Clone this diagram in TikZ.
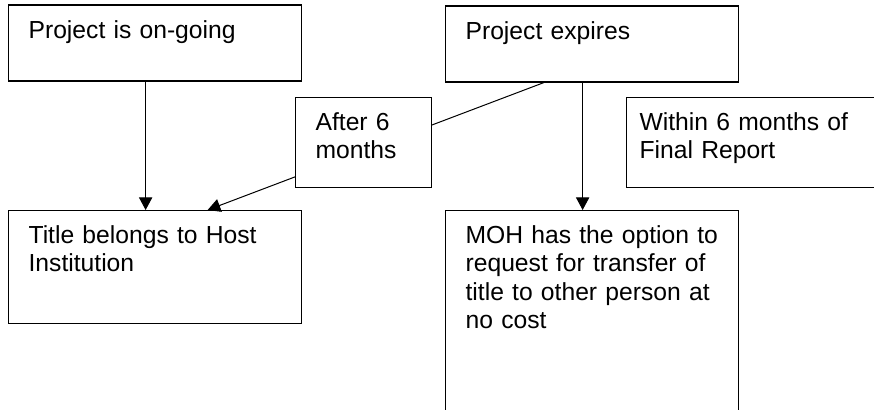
\documentclass[tikz,border=0pt]{standalone}
\usepackage{fontspec}
\setmainfont{Liberation Sans}
\usetikzlibrary{arrows.meta}

\begin{document}
\begin{tikzpicture}[x=0.75pt,y=-0.75pt]
    \clip (0,0) rectangle (874,410);

        \begin{scope}[every node/.style={draw,line width=0.9pt,fill=white,anchor=north west,align=left,
                inner ysep=0pt,inner xsep=15pt,text height=24.75pt,font=\fontsize{18.5}{21.2}\selectfont}]
            \node[text width=189.75pt,text depth=32.25pt] (ongoing) at (8,4.5) {Project is on-going};
            \node[text width=189.75pt,text depth=32.25pt] (expires) at (445,5.5) {Project expires};
            \node[text width=175.5pt,text depth=42.75pt,inner xsep=9.75pt] (within) at (626,97) {Within 6 months of\\Final Report};
            \node[text width=189.75pt,text depth=60pt] (title) at (8,210) {Title belongs to Host\\Institution};
            \node[text width=189.75pt,text depth=170pt] (moh) at (445,210) {MOH has the option to\\request for transfer of\\title to other person at\\no cost};
        \end{scope}

        \begin{scope}[every edge/.style={draw,line width=0.75pt}]
            \path [-{Triangle[length=9.5pt,width=10pt]}] ([xshift=-7.1pt]ongoing.south) edge ([xshift=-7.1pt]title.north);
            \path [-{Triangle[length=9.5pt,width=10pt]}] ([xshift=-7.1pt]expires.south) edge ([xshift=-7.1pt]moh.north);
            \path [-{Triangle[length=9.5pt,width=10pt]}] ([xshift=-36.4pt]expires.south) edge ([xshift=39.4pt]title.north);
        \end{scope}

        \node[draw,line width=0.9pt,fill=white,anchor=north west,align=left,inner ysep=0pt,inner xsep=15pt,
            text height=24.75pt,text width=72pt,text depth=42.75pt,font=\fontsize{18.5}{21.2}\selectfont]
            (after) at (295,97) {After 6\\months};

    \end{tikzpicture}
\end{document}
